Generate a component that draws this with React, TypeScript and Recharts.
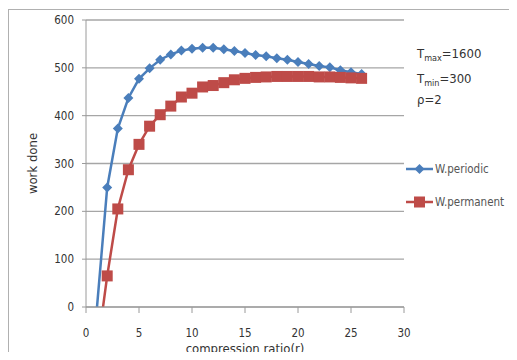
import { LineChart, Line, XAxis, YAxis, CartesianGrid, Label } from 'recharts'

// compression ratio r and work done for both cycles (Tmax=1600, Tmin=300, rho=2)
const ratios = [1, 2, 3, 4, 5, 6, 7, 8, 9, 10, 11, 12, 13, 14, 15, 16, 17, 18, 19, 20, 21, 22, 23, 24, 25, 26]
const periodic = [-10, 250, 373, 437, 477, 499, 517, 528, 536, 540, 542, 542, 539, 535, 531, 527, 524, 520, 517, 512, 508, 504, 501, 495, 491, 487]
const permanent = [-100, 65, 205, 287, 340, 378, 402, 420, 439, 447, 460, 463, 469, 475, 478, 480, 481, 482, 482, 482, 482, 481, 481, 480, 479, 478]
const xTicks = [0, 5, 10, 15, 20, 25, 30]
const yTicks = [0, 100, 200, 300, 400, 500, 600]

const BLUE = '#4A7EBB'
const RED = '#BE4B48'
const FONT = '"Liberation Sans Narrow", "DejaVu Sans Condensed", "Liberation Sans", Arial, sans-serif'

const data = ratios.map((r, i) => ({ r, periodic: periodic[i], permanent: permanent[i] }))

const series = [
    { key: 'periodic', name: 'W.periodic', color: BLUE, shape: 'diamond' },
    { key: 'permanent', name: 'W.permanent', color: RED, shape: 'square' },
]

function Marker({ cx, cy, shape, color }: { cx: number; cy: number; shape: string; color: string }) {
    if (shape === 'diamond') {
        const s = 5
        return <polygon points={`${cx},${cy - s} ${cx + s},${cy} ${cx},${cy + s} ${cx - s},${cy}`} fill={color} />
    }
    return <rect x={cx - 5.5} y={cy - 5.5} width={11} height={11} fill={color} />
}

function makeDot(shape: string, color: string) {
    return (props: any) => {
        const { cx, cy, index, value } = props
        if (value < 0 || cx == null || cy == null) return <g key={`e-${shape}-${index}`} />
        return (
            <g key={`d-${shape}-${index}`}>
                <Marker cx={cx} cy={cy} shape={shape} color={color} />
            </g>
        )
    }
}

function LegendBox() {
    return (
        <div style={{ position: 'absolute', left: 406, top: 152, fontFamily: FONT }}>
            {series.map((s) => (
                <div key={s.key} style={{ display: 'flex', alignItems: 'center', height: 33 }}>
                    <svg width={28} height={14}>
                        <line x1={0} y1={7} x2={27} y2={7} stroke={s.color} strokeWidth={2.5} />
                        <Marker cx={13.5} cy={7} shape={s.shape} color={s.color} />
                    </svg>
                    <span style={{ fontSize: 11.5, color: '#555', marginLeft: 1 }}>{s.name}</span>
                </div>
            ))}
        </div>
    )
}

const noteStyle = { position: 'absolute' as const, left: 417, fontFamily: FONT, fontSize: 13, color: '#333', lineHeight: '14px' }

export default function App() {
    return (
        <div style={{ position: 'relative', width: 517, height: 360, margin: -8, overflow: 'hidden', background: '#fff' }}>
            <div style={{ position: 'absolute', left: 8, top: 9, width: 530, height: 348, border: '1px solid #b0b0b0' }} />
            <LineChart
                width={517}
                height={360}
                data={data}
                margin={{ top: 20, right: 113, bottom: 23, left: 36 }}
                style={{ position: 'absolute', left: 0, top: 0 }}
            >
                <CartesianGrid vertical={false} stroke="#a6a6a6" strokeWidth={1.3} />
                <XAxis
                    dataKey="r"
                    type="number"
                    domain={[0, 30]}
                    ticks={xTicks}
                    height={30}
                    stroke="#9a9a9a"
                    tickSize={6}
                    tickMargin={16}
                    tick={{ fill: '#333', fontSize: 11.5, fontFamily: FONT }}
                >
                    <Label
                        value="compression ratio(r)"
                        position="insideBottom"
                        offset={-16}
                        style={{ fill: '#333', fontSize: 13, fontFamily: FONT }}
                    />
                </XAxis>
                <YAxis
                    type="number"
                    domain={[0, 600]}
                    ticks={yTicks}
                    allowDataOverflow
                    width={50}
                    stroke="#9a9a9a"
                    tickSize={4}
                    tickMargin={8}
                    tick={{ fill: '#333', fontSize: 11.5, fontFamily: FONT }}
                >
                    <Label
                        content={({ viewBox }: any) => (
                            <text
                                x={32}
                                y={viewBox.y + viewBox.height / 2}
                                transform={`rotate(-90 32 ${viewBox.y + viewBox.height / 2})`}
                                textAnchor="middle"
                                dominantBaseline="central"
                                fill="#333"
                                fontSize={13}
                                fontFamily={FONT}
                            >
                                work done
                            </text>
                        )}
                    />
                </YAxis>
                {series.map((s) => (
                    <Line
                        key={s.key}
                        type="linear"
                        dataKey={s.key}
                        name={s.name}
                        stroke={s.color}
                        strokeWidth={2.5}
                        dot={makeDot(s.shape, s.color)}
                        activeDot={false}
                        isAnimationActive={false}
                    />
                ))}
            </LineChart>
            <LegendBox />
            <div style={{ ...noteStyle, top: 47 }}>
                T<sub style={{ fontSize: 9, verticalAlign: -3 }}>max</sub>=1600
            </div>
            <div style={{ ...noteStyle, top: 72 }}>
                T<sub style={{ fontSize: 9, verticalAlign: -3 }}>min</sub>=300
            </div>
            <div style={{ ...noteStyle, top: 93 }}>ρ=2</div>
        </div>
    )
}
